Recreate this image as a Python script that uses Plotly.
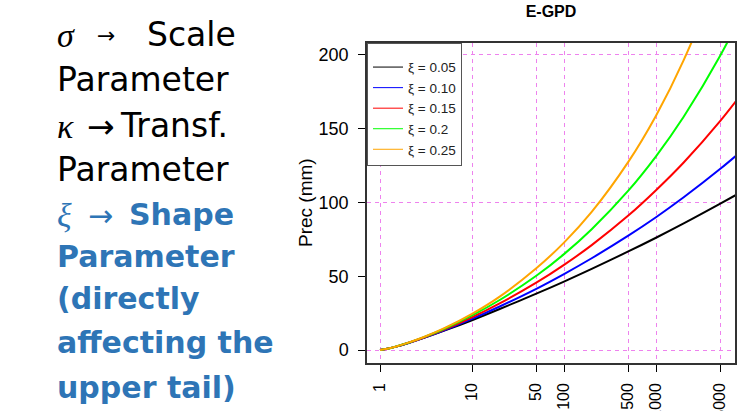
import plotly.graph_objects as go

# ---------------- data ----------------
return_period = [1, 1.2, 1.5, 2, 3, 5, 10, 20, 50, 100, 200, 500, 1000, 2000, 5000, 10000]
prec_xi005 = [0, 0.8, 2.3, 4.6, 8.2, 13.1, 20.2, 27.8, 38.2, 46.4, 55.0, 66.8, 76.1, 85.8, 99.2, 109.6]
prec_xi010 = [0, 0.8, 2.3, 4.6, 8.3, 13.4, 21.1, 29.5, 41.5, 51.5, 62.2, 77.5, 90.0, 103.5, 122.8, 138.6]
prec_xi015 = [0, 0.8, 2.3, 4.7, 8.5, 13.9, 22.2, 31.6, 45.6, 57.7, 71.1, 91.1, 108.3, 127.1, 155.3, 179.4]
prec_xi020 = [0, 0.8, 2.4, 4.7, 8.7, 14.4, 23.4, 33.9, 50.3, 65.0, 81.9, 108.0, 131.3, 158.1, 199.6, 236.5]
prec_xi025 = [0, 0.8, 2.4, 4.8, 8.8, 14.8, 24.5, 36.2, 55.4, 72.8, 93.6, 127.5, 158.8, 196.5, 257.0, 311.0]

series_names = ["ξ = 0.05", "ξ = 0.10", "ξ = 0.15", "ξ = 0.2", "ξ = 0.25"]
series_values = [prec_xi005, prec_xi010, prec_xi015, prec_xi020, prec_xi025]
series_colors = ["#000000", "#0000FF", "#FF0000", "#00FF00", "#FFA500"]

x_tick_vals = [1, 10, 50, 100, 500, 1000, 5000]
x_tick_text = ["1", "10", "50", "100", "500", "1000", "5000"]
y_tick_vals = [0, 50, 100, 150, 200]
y_grid_vals = [0, 100, 200]

# ---------------- layout geometry ----------------
W, H = 744, 411
L, R, T, B = 367, 735, 43, 363  # plot box in pixels


def px(xp):
    return (xp - L) / (R - L)


def py(yp):
    return (B - yp) / (B - T)


fig = go.Figure()

for name, vals, col in zip(series_names, series_values, series_colors):
    fig.add_trace(go.Scatter(x=return_period, y=vals, mode="lines",
                             line=dict(color=col, width=2, shape="spline"),
                             showlegend=False, hoverinfo="skip"))
# thin legend samples
for name, col in zip(series_names, series_colors):
    fig.add_trace(go.Scatter(x=[None], y=[None], mode="lines", name=name,
                             line=dict(color=col, width=1)))
# carrier for the secondary grid axis
fig.add_trace(go.Scatter(x=[None], y=[None], yaxis="y2", showlegend=False, hoverinfo="skip"))

grid_col = "#EE82EE"
font_ax = "Liberation Sans, Arial, sans-serif"

fig.update_layout(
    width=W, height=H, autosize=False,
    margin=dict(l=L, r=W - R, t=T, b=H - B, pad=0),
    paper_bgcolor="white", plot_bgcolor="white",
    font=dict(family=font_ax, color="#000"),
    title=dict(text="<b>E-GPD</b>", x=0.5, xref="paper", y=1 - 11 / H, yref="container",
               xanchor="center", yanchor="middle", font=dict(size=16, color="#000")),
    xaxis=dict(type="log", range=[-0.1413, 3.8587], tickvals=x_tick_vals, ticktext=x_tick_text,
               tickangle=-90, ticks="outside", ticklen=7, tickcolor="#000",
               showline=True, mirror=True, linecolor="#333", linewidth=1.5,
               showgrid=True, gridcolor=grid_col, griddash="4px,4px", gridwidth=1,
               zeroline=False, automargin=False, tickfont=dict(size=16), ticklabelstandoff=5),
    yaxis=dict(range=[-8.81, 208.1], tickvals=y_tick_vals, ticks="outside", ticklen=7,
               tickcolor="#000", showline=True, mirror=True, linecolor="#333", linewidth=1.5,
               showgrid=False, zeroline=False, automargin=False, tickfont=dict(size=18),
               ticklabelstandoff=6),
    yaxis2=dict(range=[-8.81, 208.1], overlaying="y", side="left", tickvals=y_grid_vals,
                showticklabels=False, ticks="", showline=False, zeroline=False,
                showgrid=True, gridcolor=grid_col, griddash="4px,4px", gridwidth=1),
    legend=dict(x=0, y=1, xanchor="left", yanchor="top", bgcolor="white",
                bordercolor="#555", borderwidth=1, font=dict(size=13.5, color="#222"),
                tracegroupgap=0,
                title=dict(text="&nbsp;", font=dict(size=6))),
)

annots = []
# y axis title
annots.append(dict(text="Prec (mm)", x=px(305), y=py(203), xref="paper", yref="paper",
                   textangle=-90, showarrow=False, xanchor="center", yanchor="middle",
                   font=dict(size=19, family=font_ax, color="#000")))

reg = "DejaVu Sans, sans-serif"
serif = "Liberation Serif, serif"
blue = "#2E75B6"


def add(text, xleft, ymid, size, family, color, anchor="left"):
    annots.append(dict(text=text, x=px(xleft), y=py(ymid), xref="paper", yref="paper",
                       showarrow=False, xanchor=anchor, yanchor="middle",
                       font=dict(size=size, family=family, color=color)))


# left-hand text block
add("<i>σ</i>", 55, 36, 34, serif, "#000")
add("→", 106, 36, 22, reg, "#000", anchor="center")
add("Scale", 145, 34, 33, reg, "#000")
add("Parameter", 55, 79, 33, reg, "#000")
add("<i>κ</i>", 55, 127, 34, serif, "#000")
add("→", 101, 127, 33, reg, "#000", anchor="center")
add("Transf.", 118, 125, 33, reg, "#000")
add("Parameter", 55, 169, 33, reg, "#000")
add("<i>ξ</i>", 55, 215, 34, serif, blue)
add("→", 100, 215, 30, reg, blue, anchor="center")
add("<b>Shape</b>", 127, 214, 30, reg, blue)
add("<b>Parameter</b>", 55, 256, 30, reg, blue)
add("<b>(directly</b>", 55, 298, 30, reg, blue)
add("<b>affecting the</b>", 55, 342, 30, reg, blue)
add("<b>upper tail)</b>", 55, 387, 30, reg, blue)

fig.update_layout(annotations=annots)

fig.write_html("out.html", config={"displayModeBar": False},
               post_script="document.body.style.margin='0';document.body.style.overflow='hidden';")
